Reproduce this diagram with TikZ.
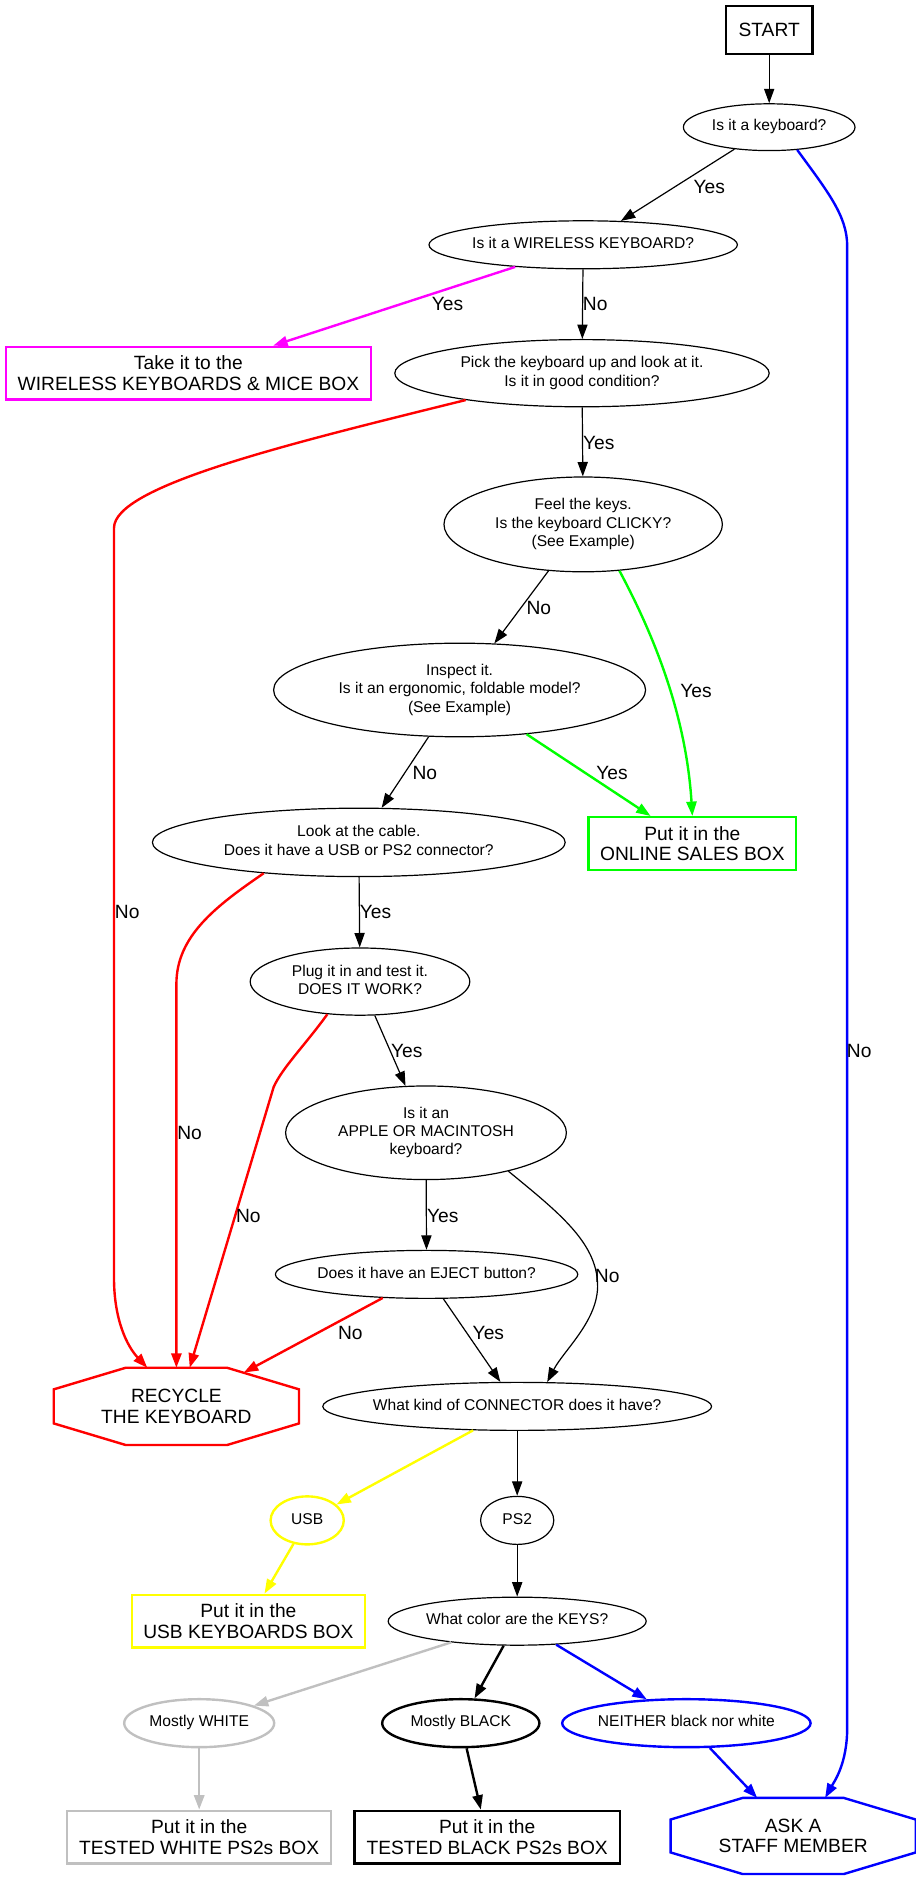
\documentclass[tikz,border=0pt]{standalone}
\usepackage{fontspec}
\setmainfont{Liberation Sans}
\usepackage{xcolor}
\definecolor{vert}{RGB}{0,255,0}
\definecolor{mag}{RGB}{255,0,255}
\definecolor{jaune}{RGB}{255,255,0}
\definecolor{gris}{RGB}{192,192,192}
\definecolor{bleu}{RGB}{0,0,255}
\definecolor{rouge}{RGB}{255,0,0}
\usepackage{tikz}
\usetikzlibrary{arrows.meta,shapes.geometric}
% text of a question, kept out of the ellipse size
\newcommand{\qtext}[1]{\makebox[0pt]{\begin{tabular}{@{}c@{}}#1\end{tabular}}}
% octagon outline round a named node: node, colour
\newcommand{\octline}[2]{%
  \draw[#2,line width=2bp] ([xshift=60bp]#1.north west) -- ([xshift=-60bp]#1.north east)
    -- ([yshift=-18bp]#1.north east) -- ([yshift=18bp]#1.south east)
    -- ([xshift=-60bp]#1.south east) -- ([xshift=60bp]#1.south west)
    -- ([yshift=18bp]#1.south west) -- ([yshift=-18bp]#1.north west) -- cycle;}
\tikzset{
  >={Triangle[length=12bp,width=8.5bp]},
  quest/.style={ellipse, draw=black, line width=1bp, inner sep=0pt, font=\fontsize{13bp}{15.3bp}\selectfont},
  questb/.style={quest, line width=2bp},
  sbox/.style={rectangle, draw=black, line width=2bp, inner sep=0pt, align=center, minimum height=44bp, font=\fontsize{16bp}{17.3bp}\selectfont},
  octo/.style={rectangle, inner sep=0pt, align=center, minimum width=204bp, minimum height=64bp, font=\fontsize{16bp}{17.3bp}\selectfont},
  lbl/.style={inner sep=0pt, font=\fontsize{16bp}{17.3bp}\selectfont},
  line/.style={draw, line width=1bp, ->},
  fat/.style={draw, line width=2bp, ->},
}
\begin{document}
\begin{tikzpicture}[x=1bp,y=-1bp]
\useasboundingbox (0,0) rectangle (763.3,1566.7);

  \node[sbox,minimum width=72bp,minimum height=40bp] (start) at (641,25) {START};
  \node[quest,minimum width=143bp,minimum height=39bp] (kb) at (641,106) {\qtext{Is it a keyboard?}};
  \node[quest,minimum width=257bp,minimum height=40bp] (wl) at (486,204) {\qtext{Is it a WIRELESS KEYBOARD?}};
  \node[sbox,draw=mag,minimum width=304bp] (take) at (157,311) {Take it to the\\WIRELESS KEYBOARDS \& MICE BOX};
  \node[quest,minimum width=312bp,minimum height=56bp] (pick) at (485,311) {\qtext{Pick the keyboard up and look at it.\\Is it in good condition?}};
  \node[quest,minimum width=232bp,minimum height=79bp] (feel) at (486,437) {\qtext{Feel the keys.\\Is the keyboard CLICKY?\\(See Example)}};
  \node[quest,minimum width=310bp,minimum height=78bp] (insp) at (383,575) {\qtext{Inspect it.\\Is it an ergonomic, foldable model?\\(See Example)}};
  \node[sbox,draw=vert,minimum width=173bp] (online) at (577,703) {Put it in the\\ONLINE SALES BOX};
  \node[quest,minimum width=344bp,minimum height=57bp] (look) at (299,702) {\qtext{Look at the cable.\\Does it have a USB or PS2 connector?}};
  \node[quest,minimum width=183bp,minimum height=56bp] (plug) at (300,818) {\qtext{Plug it in and test it.\\DOES IT WORK?}};
  \node[quest,minimum width=234bp,minimum height=78bp] (apple) at (355,944) {\qtext{Is it an\\APPLE OR MACINTOSH\\keyboard?}};
  \node[quest,minimum width=252bp,minimum height=40bp] (eject) at (355.5,1062) {\qtext{Does it have an EJECT button?}};
  \node[octo] (rec) at (147,1172) {RECYCLE\\THE KEYBOARD};
  \octline{rec}{rouge}
  \node[quest,minimum width=324bp,minimum height=40bp] (conn) at (431,1172) {\qtext{What kind of CONNECTOR does it have?}};
  \node[questb,draw=jaune,minimum width=61bp,minimum height=40bp] (usb) at (256,1267) {\qtext{USB}};
  \node[quest,minimum width=61bp,minimum height=40bp] (ps) at (431,1267) {\qtext{PS2}};
  \node[sbox,draw=jaune,minimum width=194bp] (usbbox) at (207,1351) {Put it in the\\USB KEYBOARDS BOX};
  \node[quest,minimum width=215bp,minimum height=40bp] (color) at (431,1351) {\qtext{What color are the KEYS?}};
  \node[questb,draw=gris,minimum width=125bp,minimum height=40bp] (white) at (166,1436) {\qtext{Mostly WHITE}};
  \node[questb,minimum width=131bp,minimum height=40bp] (black) at (384,1436) {\qtext{Mostly BLACK}};
  \node[questb,draw=bleu,minimum width=207bp,minimum height=40bp] (neither) at (572,1436) {\qtext{NEITHER black nor white}};
  \node[sbox,draw=gris,minimum width=220bp] (twhite) at (166,1531) {Put it in the\\TESTED WHITE PS2s BOX};
  \node[sbox,minimum width=221bp] (tblack) at (406,1531) {Put it in the\\TESTED BLACK PS2s BOX};
  \node[octo,minimum height=63bp] (ask) at (661,1530) {ASK A\\STAFF MEMBER};
  \octline{ask}{bleu}

  \path[line] (start) -- (kb);
  \path[line] (kb) -- (wl);
  \path[fat,draw=bleu] (kb.-39) .. controls (690,160) and (706,180) .. (706,205) -- (706,1440) .. controls (706,1470) and (695,1485) .. (ask.50);
  \path[fat,draw=mag] (wl) -- (take);
  \path[line] (wl) -- (pick);
  \path[fat,draw=rouge] (pick.193) .. controls (240,370) and (95,405) .. (95,440) -- (95,1065) .. controls (95,1100) and (106,1122) .. (rec.127);
  \path[line] (pick) -- (feel);
  \path[line] (feel) -- (insp);
  \path[fat,draw=vert] (feel.-52) .. controls (548,535) and (572,600) .. (online.north);
  \path[fat,draw=vert] (insp) -- (online);
  \path[line] (insp) -- (look);
  \path[fat,draw=rouge] (look.198) .. controls (180,755) and (147,780) .. (147,820) -- (rec.north);
  \path[line] (look) -- (plug);
  \path[fat,draw=rouge] (plug.225) .. controls (255,870) and (235,890) .. (228,906) -- (rec.71);
  \path[line] (plug) -- (apple);
  \path[line] (apple) -- (eject);
  \path[line] (apple.-25) .. controls (465,1010) and (497,1035) .. (498,1070) .. controls (499,1100) and (470,1125) .. (conn.39);
  \path[fat,draw=rouge] (eject) -- ([xshift=-46bp,yshift=-4bp]rec.north east);
  \path[line] (eject) -- (conn);
  \path[fat,draw=jaune] (conn) -- (usb);
  \path[line] (conn) -- (ps);
  \path[fat,draw=jaune] (usb) -- (usbbox);
  \path[line] (ps) -- (color);
  \path[fat,draw=gris] (color) -- (white);
  \path[fat] (color) -- (black);
  \path[fat,draw=bleu] (color) -- (neither);
  \path[fat,draw=gris] (white) -- (twhite);
  \path[fat] (black) -- (tblack);
  \path[fat,draw=bleu] (neither) -- (ask);

  % edge labels
  \node[lbl] (y1) at (591,156) {Yes};
  \node[lbl] (y2) at (373,253) {Yes};
  \node[lbl] (n1) at (496,253) {No};
  \node[lbl] (y3) at (499,369) {Yes};
  \node[lbl] (n2) at (449,507) {No};
  \node[lbl] (y4) at (580,576) {Yes};
  \node[lbl] (y5) at (510,644) {Yes};
  \node[lbl] (n3) at (354,644) {No};
  \node[lbl] (n4) at (106,760) {No};
  \node[lbl] (y6) at (313,760) {Yes};
  \node[lbl] (n5) at (716,876) {No};
  \node[lbl] (y7) at (339,876) {Yes};
  \node[lbl] (n6) at (158,944) {No};
  \node[lbl] (n7) at (207,1013) {No};
  \node[lbl] (y8) at (369,1013) {Yes};
  \node[lbl] (n8) at (506,1063) {No};
  \node[lbl] (n9) at (292,1111) {No};
  \node[lbl] (y9) at (407,1111) {Yes};
\end{tikzpicture}
\end{document}
